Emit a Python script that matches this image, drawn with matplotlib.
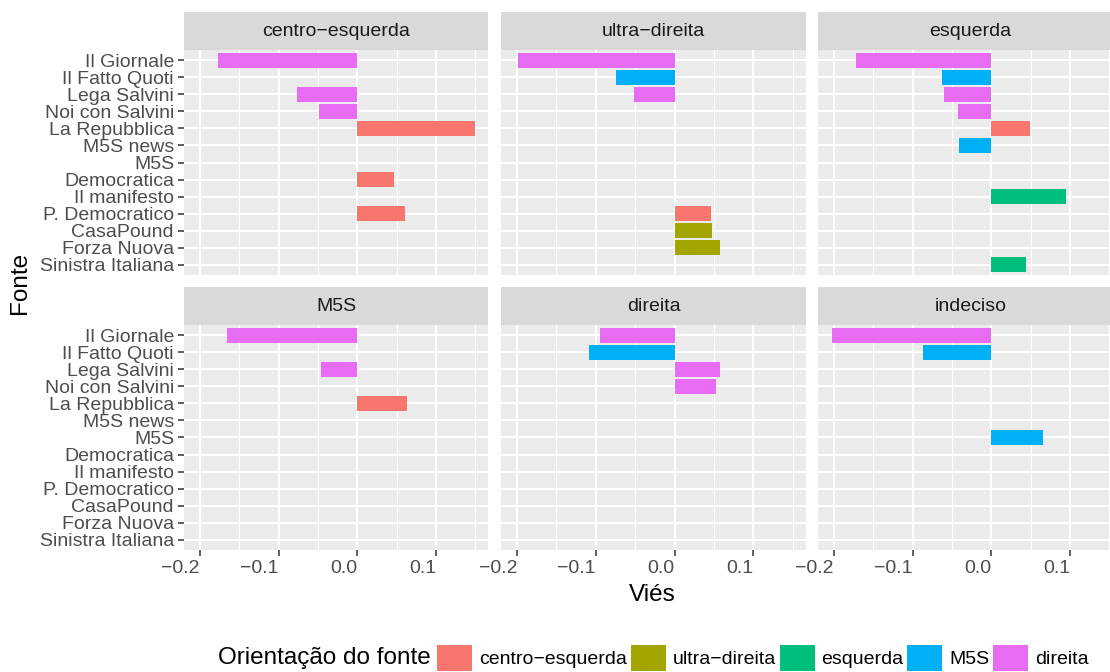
import numpy as np
import matplotlib
matplotlib.use("Agg")
import matplotlib.pyplot as plt
from matplotlib.patches import Patch

plt.rcParams['font.family'] = ['Liberation Sans', 'DejaVu Sans']

nan = np.nan

# sources, top to bottom
fontes = ['Il Giornale', 'Il Fatto Quoti', 'Lega Salvini', 'Noi con Salvini',
          'La Repubblica', 'M5S news', 'M5S', 'Democratica', 'Il manifesto',
          'P. Democratico', 'CasaPound', 'Forza Nuova', 'Sinistra Italiana']
orientacao_fonte = ['direita', 'M5S', 'direita', 'direita',
                    'centro-esquerda', 'M5S', 'M5S', 'centro-esquerda', 'esquerda',
                    'centro-esquerda', 'ultra-direita', 'ultra-direita', 'esquerda']

niveis = ['centro-esquerda', 'ultra-direita', 'esquerda', 'M5S', 'direita']
cores = ['#F8766D', '#A3A500', '#00BF7D', '#00B0F6', '#E76BF3']

facetas = ['centro-esquerda', 'ultra-direita', 'esquerda', 'M5S', 'direita', 'indeciso']

vies_centro_esquerda = [-0.177, nan, -0.077, -0.049, 0.149, nan, nan, 0.047, nan, 0.061, nan, nan, nan]
vies_ultra_direita = [-0.199, -0.075, -0.051, nan, nan, nan, nan, nan, nan, 0.046, 0.047, 0.057, nan]
vies_esquerda = [-0.172, -0.062, -0.060, -0.042, 0.049, -0.041, nan, nan, 0.095, nan, nan, nan, 0.044]
vies_m5s = [-0.166, nan, -0.046, nan, 0.063, nan, nan, nan, nan, nan, nan, nan, nan]
vies_direita = [-0.095, -0.109, 0.058, 0.052, nan, nan, nan, nan, nan, nan, nan, nan, nan]
vies_indeciso = [-0.2025, -0.087, nan, nan, nan, nan, 0.066, nan, nan, nan, nan, nan, nan]

vies = [vies_centro_esquerda, vies_ultra_direita, vies_esquerda,
        vies_m5s, vies_direita, vies_indeciso]

W, H = 1110, 672
fig = plt.figure(figsize=(W / 100, H / 100), dpi=100)

# shared x scale, ggplot-style 5% expansion
todos = np.array([v for s in vies for v in s if not np.isnan(v)] + [0.0])
lo, hi = todos.min(), todos.max()
xlim = (lo - 0.05 * (hi - lo), hi + 0.05 * (hi - lo))

col_left = [184, 501.3, 818]
pw = 304.5
row_top = [50, 325]
ph = 225
strip_h = 37.7

cor_de = dict(zip(niveis, cores))
y = np.arange(len(fontes))
xt = [-0.2, -0.1, 0.0, 0.1]

def fmt(v):
    return ('%.1f' % v).replace('-', '\u2212')

def rotulo(s):
    return s.replace('-', '\u2212')

for i, (nome, valores) in enumerate(zip(facetas, vies)):
    r, c = divmod(i, 3)
    x0 = col_left[c]
    y0 = row_top[r]
    ax = fig.add_axes([x0 / W, 1 - (y0 + ph) / H, pw / W, ph / H])
    ax.set_facecolor('#EBEBEB')
    for s in ax.spines.values():
        s.set_visible(False)
    ax.set_xlim(*xlim)
    ax.set_ylim(len(fontes) - 0.4, -0.6)

    ax.set_xticks(xt)
    ax.set_xticks([-0.15, -0.05, 0.05, 0.15], minor=True)
    ax.set_yticks(y)
    ax.grid(which='major', color='white', linewidth=1.5)
    ax.grid(which='minor', axis='x', color='white', linewidth=0.8)
    ax.set_axisbelow(True)

    vals = np.array(valores, dtype=float)
    mask = ~np.isnan(vals)
    ax.barh(y[mask], vals[mask], height=0.9,
            color=[cor_de[orientacao_fonte[k]] for k in np.where(mask)[0]],
            linewidth=0, zorder=2)

    ax.tick_params(which='minor', length=0)
    ax.tick_params(which='major', length=4.2, width=1.1, color='#333333',
                   labelsize=14, labelcolor='#4D4D4D', pad=3)
    if c == 0:
        ax.set_yticklabels(fontes)
    else:
        ax.tick_params(axis='y', length=0, labelleft=False)
    if r == 1:
        ax.set_xticklabels([fmt(v) for v in xt], ha='right')
    else:
        ax.tick_params(axis='x', length=0, labelbottom=False)

    st = fig.add_axes([x0 / W, 1 - y0 / H, pw / W, strip_h / H])
    st.set_facecolor('#D9D9D9')
    st.set_xticks([])
    st.set_yticks([])
    for s in st.spines.values():
        s.set_visible(False)
    st.text(0.5, 0.5, rotulo(nome), ha='center', va='center', fontsize=14,
            color='#1A1A1A', transform=st.transAxes)

fig.text(20 / W, 1 - 283 / H, 'Fonte', rotation=90, ha='center', va='center', fontsize=17.5)
fig.text(652 / W, 1 - 595 / H, 'Viés', ha='center', va='center', fontsize=17.5)

fig.text(218 / W, 1 - 658 / H, 'Orientação do fonte', ha='left', va='center', fontsize=17.5)
handles = [Patch(facecolor=cc, edgecolor='none', label=rotulo(nn)) for nn, cc in zip(niveis, cores)]
fig.legend(handles=handles, loc='center left', bbox_to_anchor=(437 / W, 1 - 658 / H),
           ncol=5, frameon=False, fontsize=14, handlelength=1.8, handleheight=1.75,
           handletextpad=0.35, columnspacing=0.2, borderpad=0, borderaxespad=0)

fig.savefig('out.png', dpi=100)
